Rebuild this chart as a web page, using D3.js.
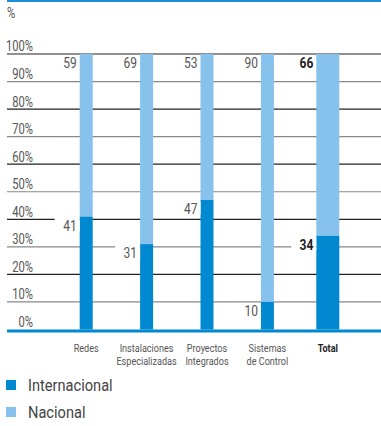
<!DOCTYPE html>
<html><head><meta charset="utf-8">
<script src="https://cdn.jsdelivr.net/npm/d3@7"></script>
<style>
html,body{margin:0;padding:0;background:#fff;}
svg{display:block;font-family:Roboto,"Liberation Sans",sans-serif;}
</style></head><body>
<svg id="c" width="381" height="426"></svg>
<script>
const categories = [["Redes"],["Instalaciones","Especializadas"],["Proyectos","Integrados"],["Sistemas","de Control"],["Total"]];
const internacional = [41, 31, 47, 10, 34];
const nacional = [59, 69, 53, 90, 66];
const isTotal = [false,false,false,false,true];
const yTicks = [0,10,20,30,40,50,60,70,80,90,100];
const seriesNames = ["Internacional","Nacional"];
const colors = {intl:"#0088d1", nac:"#86c2ec"};

const svg = d3.select("#c");
function txt(parent, x, y, s, o={}){
  const sx = o.sx || 0.8;
  const t = parent.append("text").attr("x",x/sx).attr("y",y).attr("transform",`scale(${sx},1)`)
    .attr("font-size",o.size||14).attr("fill",o.fill||"#555").attr("font-weight",o.weight||"normal")
    .attr("text-anchor",o.anchor||"start").text(s);
  return t;
}
const left = 7, right = 381;
const y = d3.scaleLinear().domain([0,100]).range([329.5,54]);
const x = d3.scaleBand().domain(d3.range(categories.length)).range([56,358]);

svg.append("rect").attr("x",left).attr("y",0).attr("width",right-left).attr("height",2).attr("fill","#1a8fd8");
txt(svg, left, 18, "%", {size:14});

yTicks.forEach((t,i)=>{
  if(t===0) return;
  svg.append("line").attr("x1",left).attr("x2",right).attr("y1",y(t)).attr("y2",y(t))
    .attr("stroke", i%2===0 ? "#222" : "#888").attr("stroke-width",1.2);
});
yTicks.forEach(t=>{ txt(svg, 33, y(t)-2.5, t+"%", {size:14, anchor:"end"}); });

const barW = i => isTotal[i] ? 23 : 13;
const cx = i => x(i) + x.bandwidth()/2;

categories.forEach((c,i)=>{
  const w = barW(i), bx = cx(i)-w/2;
  svg.append("rect").attr("x",bx).attr("width",w).attr("y",y(100)).attr("height",y(internacional[i])-y(100)).attr("fill",colors.nac);
  svg.append("rect").attr("x",bx).attr("width",w).attr("y",y(internacional[i])).attr("height",y(0)-y(internacional[i])).attr("fill",colors.intl);
  const fw = isTotal[i] ? "bold" : "normal";
  const fc = isTotal[i] ? "#222" : "#555";
  txt(svg, bx-3, y(100)+14.5, nacional[i], {size:15, weight:fw, fill:fc, anchor:"end"});
  const ly = y(internacional[i]);
  svg.append("rect").attr("x",bx-25).attr("y",ly+1).attr("width",25).attr("height",14).attr("fill","#fff");
  txt(svg, bx-3, ly+14, internacional[i], {size:15, weight:fw, fill:fc, anchor:"end"});
  c.forEach((line,k)=>txt(svg, cx(i), 352 + k*13, line, {size:11.5, sx:0.79, weight:fw, fill:fc, anchor:"middle"}));
});

svg.append("rect").attr("x",left).attr("y",329.5).attr("width",right-left).attr("height",3).attr("fill","#0088d1");

[["intl",seriesNames[0],380],["nac",seriesNames[1],407]].forEach(([k,n,yy])=>{
  svg.append("rect").attr("x",6).attr("y",yy).attr("width",10).attr("height",10).attr("fill",colors[k]);
  txt(svg, 28, yy+11.5, n, {size:17, sx:0.86, fill:"#444"});
});
</script></body></html>
